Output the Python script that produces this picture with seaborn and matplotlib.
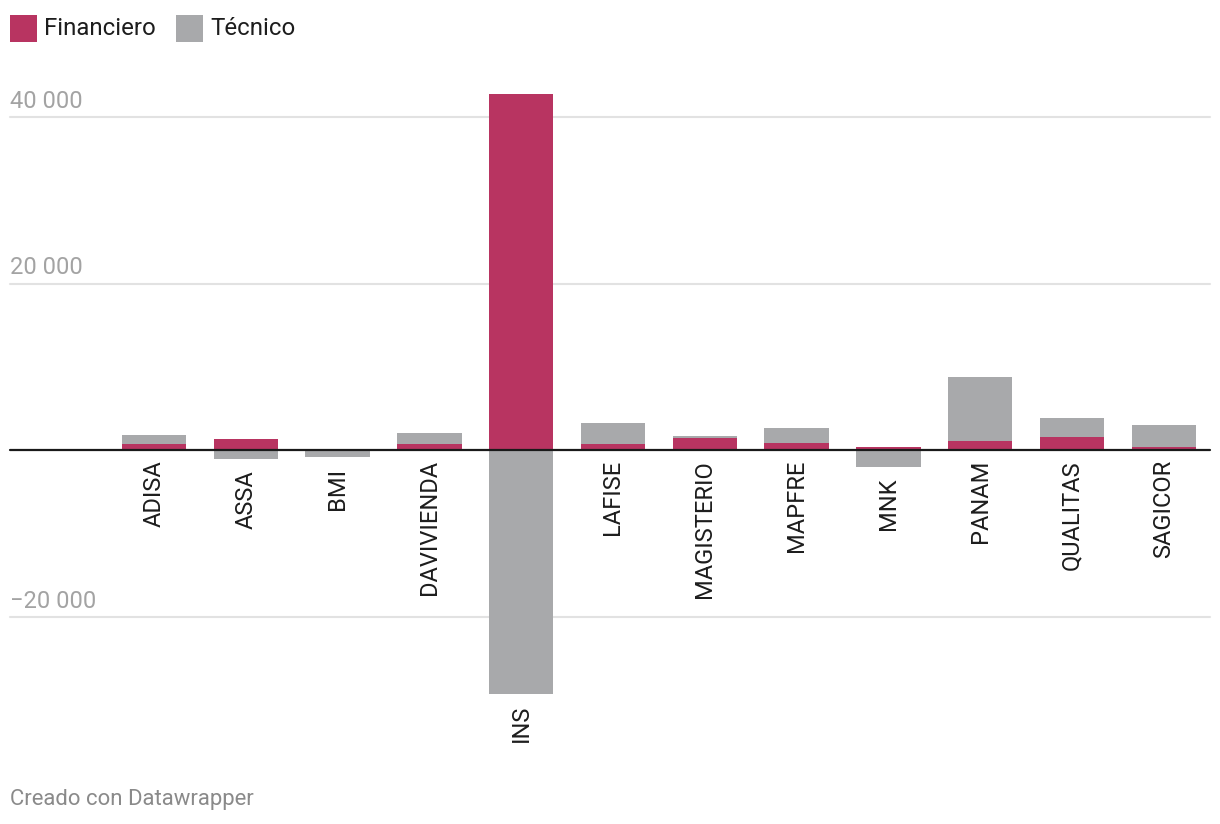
import numpy as np
import pandas as pd
import matplotlib
matplotlib.use("Agg")
import matplotlib.pyplot as plt
from matplotlib.patches import Rectangle
import seaborn as sns

companies = ["ADISA", "ASSA", "BMI", "DAVIVIENDA", "INS", "LAFISE", "MAGISTERIO",
             "MAPFRE", "MNK", "PANAM", "QUALITAS", "SAGICOR"]
financiero = [700, 1290, 60, 700, 42800, 700, 1400, 800, 320, 1120, 1600, 400]
tecnico = [1070, -1080, -840, 1300, -29300, 2500, 250, 1900, -2040, 7700, 2280, 2640]
series_names = ["Financiero", "Técnico"]
ytick_values = [-20000, 20000, 40000]
ytick_labels = ["−20 000", "20 000", "40 000"]
footer = "Creado con Datawrapper"

RED = "#b83461"
GRAY = "#a8a9ab"

sns.set_theme(style="white")
plt.rcParams["font.family"] = ["Roboto", "DejaVu Sans"]

W, H = 1220, 824
fig = plt.figure(figsize=(W / 100, H / 100), dpi=100)
ax = fig.add_axes([0, 0, 1, 1])

fin = np.array(financiero, dtype=float)
tec = np.array(tecnico, dtype=float)
tec_bottom = np.where(tec > 0, np.maximum(fin, 0), np.minimum(fin, 0))

df = pd.DataFrame({"company": companies, "fin": fin, "tec": tec, "tb": tec_bottom})

sns.barplot(data=df, x="company", y="fin", color=RED, width=0.70, errorbar=None,
            saturation=1, ax=ax, zorder=3, linewidth=0)
sns.barplot(data=df, x="company", y="tec", color=GRAY, width=0.70, errorbar=None,
            saturation=1, ax=ax, zorder=3, linewidth=0, bottom=df["tb"].values)

# axis geometry (pixel mapping)
px_per_unit = 8.325 / 1000.0
y_zero_px = 450
ax.set_ylim(-(H - y_zero_px) / px_per_unit, y_zero_px / px_per_unit)
x0_px, step_px = 154, 91.8
ax.set_xlim(-x0_px / step_px, (W - x0_px) / step_px)
ax.axis("off")

xmin, xmax = 10 / W, 1210 / W
for v, lab in zip(ytick_values, ytick_labels):
    ax.axhline(v, xmin=xmin, xmax=xmax, color="#e2e2e2", lw=1.5, zorder=1)
    ax.annotate(lab, xy=(xmin, v), xycoords=ax.get_yaxis_transform(),
                xytext=(0, 9), textcoords="offset pixels", ha="left", va="baseline",
                fontsize=17, color="#a3a3a3")
ax.axhline(0, xmin=xmin, xmax=xmax, color="#1a1a1a", lw=1.6, zorder=4)

for i, name in enumerate(companies):
    low = 0.0
    if tec[i] < 0:
        low = min(low, tec_bottom[i] + tec[i])
    ax.annotate(name, xy=(i, low), xycoords="data", xytext=(0, -11 if low < 0 else -10),
                textcoords="offset pixels", ha="center", va="top", rotation=90,
                fontsize=17, color="#1d1d1d")

# legend
def fx(px):
    return px / W

def fy(py):
    return 1 - py / H

fig.patches.append(Rectangle((fx(10), fy(42)), 27 / W, 27 / H, transform=fig.transFigure,
                             facecolor=RED, edgecolor="none"))
fig.text(fx(44), fy(28.5), series_names[0], ha="left", va="center", fontsize=17.3, color="#1d1d1d")
fig.patches.append(Rectangle((fx(176), fy(42)), 27 / W, 27 / H, transform=fig.transFigure,
                             facecolor=GRAY, edgecolor="none"))
fig.text(fx(210), fy(28.5), series_names[1], ha="left", va="center", fontsize=17.3, color="#1d1d1d")

fig.text(fx(10), fy(800), footer, ha="left", va="center", fontsize=15.9, color="#8a8a8a")

fig.savefig("out.png", dpi=100)
